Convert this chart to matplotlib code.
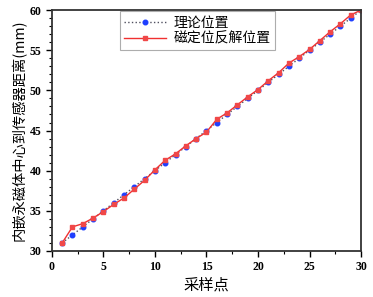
import matplotlib
matplotlib.use('Agg')
import matplotlib.pyplot as plt
from matplotlib.ticker import MultipleLocator

# === Data ===
points = list(range(1, 31))
theory = [31, 32, 33, 34, 35, 36, 37, 38, 39, 40,
          41, 42, 43, 44, 45, 46, 47, 48, 49, 50,
          51, 52, 53, 54, 55, 56, 57, 58, 59, 60]
solved = [31.0, 33.0, 33.4, 34.1, 34.9, 35.8, 36.6, 37.7, 38.8, 40.1,
          41.3, 42.1, 43.1, 44.0, 44.8, 46.4, 47.2, 48.2, 49.2, 50.1,
          51.2, 52.2, 53.4, 54.2, 55.1, 56.2, 57.3, 58.3, 59.4, 60.0]

cjk = ['Noto Sans CJK SC', 'DejaVu Sans']
serif = 'Liberation Serif'

# === Plot ===
fig = plt.figure(figsize=(3.73, 2.97), dpi=100)
ax = fig.add_axes([0.139, 0.155, 0.829, 0.811])

ax.plot(points, theory, linestyle=':', color='#505060', linewidth=1.0,
        marker='o', markersize=3.3, markerfacecolor='#1f3fff',
        markeredgecolor='#1f3fff', label='理论位置')
ax.plot(points, solved, linestyle='-', color='#f03030', linewidth=1.0,
        marker='s', markersize=3.3, markerfacecolor='#f04848',
        markeredgecolor='#f04848', label='磁定位反解位置')

ax.set_xlim(0, 30)
ax.set_ylim(30, 60)
ax.xaxis.set_major_locator(MultipleLocator(5))
ax.xaxis.set_minor_locator(MultipleLocator(2.5))
ax.yaxis.set_major_locator(MultipleLocator(5))
ax.yaxis.set_minor_locator(MultipleLocator(1))
ax.tick_params(which='major', direction='out', length=4, width=1, labelsize=8.5)
ax.tick_params(which='minor', direction='out', length=2, width=0.8)
for lab in ax.get_xticklabels() + ax.get_yticklabels():
    lab.set_family(serif)
    lab.set_fontweight('bold')
for s in ax.spines.values():
    s.set_linewidth(1.3)
    s.set_color('#333333')

ax.set_xlabel('采样点', family=cjk, fontsize=11, labelpad=2)
ax.set_ylabel('内嵌永磁体中心到传感器距离(mm)', family=cjk, fontsize=10.3, labelpad=2)

leg = ax.legend(loc='upper left', bbox_to_anchor=(0.215, 1.0),
                prop={'family': cjk, 'size': 10}, frameon=True,
                fancybox=False, edgecolor='#999999', borderpad=0.3,
                labelspacing=0.15, handlelength=3, handletextpad=0.6,
                borderaxespad=0.1)
leg.get_frame().set_linewidth(0.8)

plt.savefig('out.png', dpi=100)
